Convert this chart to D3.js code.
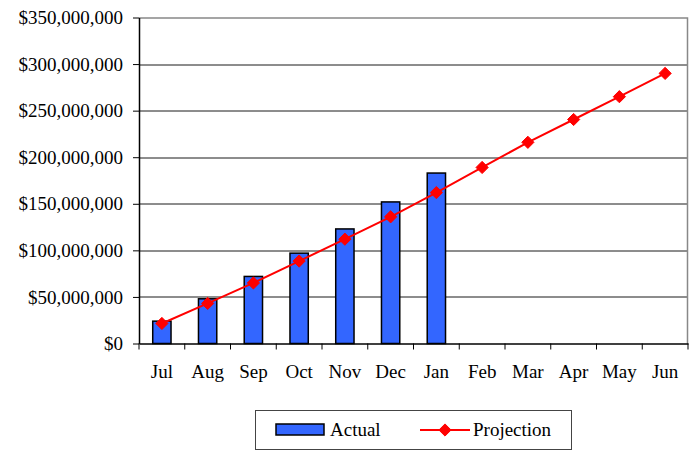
<!DOCTYPE html>
<html>
<head>
<meta charset="utf-8">
<script src="https://cdn.jsdelivr.net/npm/d3@7"></script>
<style>
  body { margin: 0; background: #fff; }
  text { font-family: "Liberation Serif", "Times New Roman", serif; fill: #000; }
</style>
</head>
<body>
<div id="chart"></div>
<script>
// data
const months = ["Jul", "Aug", "Sep", "Oct", "Nov", "Dec", "Jan", "Feb", "Mar", "Apr", "May", "Jun"];
const actual = [24000000, 48000000, 72000000, 97000000, 123000000, 152000000, 183000000];
const projection = [21500000, 43000000, 65000000, 88500000, 112000000, 136000000, 162000000,
                    189000000, 216000000, 240500000, 265000000, 290000000];
const yTicks = [0, 50000000, 100000000, 150000000, 200000000, 250000000, 300000000, 350000000];

const width = 698, height = 455;
const margin = {top: 17.5, right: 10, bottom: 112, left: 139};
const w = 688 - margin.left, h = 343.5 - margin.top;

const svg = d3.select("#chart").append("svg")
    .attr("width", width)
    .attr("height", height);

const g = svg.append("g")
    .attr("transform", `translate(${margin.left},${margin.top})`);

const x = d3.scaleBand().domain(months).range([0, w]);
const y = d3.scaleLinear().domain([0, 350000000]).range([h, 0]);

const fmt = d => "$" + d3.format(",")(d);

// gridlines
g.selectAll(".grid")
    .data(yTicks.slice(1, -1))
    .enter().append("line")
    .attr("x1", 0).attr("x2", w)
    .attr("y1", d => Math.round(y(d)) + 0.5)
    .attr("y2", d => Math.round(y(d)) + 0.5)
    .attr("stroke", "#1a1a1a")
    .attr("stroke-width", 1);

// frame top / right (gray)
g.append("path")
    .attr("d", `M0,0.5H${w - 0.5}V${h}`)
    .attr("fill", "none")
    .attr("stroke", "#888")
    .attr("stroke-width", 1.5);

// bars
const bw = x.bandwidth() * 0.4;
g.selectAll(".bar")
    .data(actual)
    .enter().append("rect")
    .attr("class", "bar")
    .attr("x", (d, i) => x(months[i]) + (x.bandwidth() - bw) / 2)
    .attr("y", d => y(d))
    .attr("width", bw)
    .attr("height", d => h - y(d))
    .attr("fill", "#3366ff")
    .attr("stroke", "#000")
    .attr("stroke-width", 1.5);

// y axis
const yAxis = g.append("g")
    .call(d3.axisLeft(y).tickValues(yTicks).tickFormat(fmt).tickSize(6).tickSizeOuter(0));
yAxis.select(".domain").attr("stroke", "#000").attr("stroke-width", 1.5);
yAxis.selectAll(".tick line").attr("stroke", "#000");
yAxis.selectAll("text")
    .attr("x", -16)
    .style("font-size", "19px")
    .style("font-family", "'Liberation Serif', serif");

// x axis
const xAxis = g.append("g")
    .attr("transform", `translate(0,${h})`)
    .call(d3.axisBottom(x).tickSize(0).tickSizeOuter(0));
xAxis.select(".domain").attr("stroke", "#000").attr("stroke-width", 1.5);
xAxis.selectAll("text")
    .attr("y", 21)
    .style("font-size", "19px")
    .style("font-family", "'Liberation Serif', serif");
// tick marks at category boundaries
g.selectAll(".xtick")
    .data(months.concat(["end"]))
    .enter().append("line")
    .attr("x1", (d, i) => i * x.step())
    .attr("x2", (d, i) => i * x.step())
    .attr("y1", h).attr("y2", h + 6)
    .attr("stroke", "#000");

// projection line
const line = d3.line()
    .x((d, i) => x(months[i]) + x.bandwidth() / 2)
    .y(d => y(d));

g.append("path")
    .datum(projection)
    .attr("d", line)
    .attr("fill", "none")
    .attr("stroke", "#ff0000")
    .attr("stroke-width", 2);

const diamond = d3.symbol().type(d3.symbolDiamond2).size(95);
g.selectAll(".marker")
    .data(projection)
    .enter().append("path")
    .attr("d", diamond)
    .attr("transform", (d, i) => `translate(${x(months[i]) + x.bandwidth() / 2},${y(d)})`)
    .attr("fill", "#ff0000")
    .attr("stroke", "#ff0000")
    .attr("stroke-width", 1);

// legend
const leg = svg.append("g").attr("transform", "translate(255,410)");
leg.append("rect")
    .attr("x", 0.5).attr("y", 0.5)
    .attr("width", 316).attr("height", 39)
    .attr("fill", "#fff")
    .attr("stroke", "#444")
    .attr("stroke-width", 1);
leg.append("rect")
    .attr("x", 21).attr("y", 14)
    .attr("width", 48).attr("height", 11)
    .attr("fill", "#3366ff")
    .attr("stroke", "#000")
    .attr("stroke-width", 1.5);
leg.append("text")
    .attr("x", 75).attr("y", 26)
    .style("font-size", "19px")
    .text("Actual");
leg.append("line")
    .attr("x1", 165).attr("x2", 215)
    .attr("y1", 20).attr("y2", 20)
    .attr("stroke", "#ff0000")
    .attr("stroke-width", 2);
leg.append("path")
    .attr("d", diamond)
    .attr("transform", "translate(190,20)")
    .attr("fill", "#ff0000")
    .attr("stroke", "#ff0000");
leg.append("text")
    .attr("x", 218).attr("y", 26)
    .style("font-size", "19px")
    .text("Projection");
</script>
</body>
</html>
